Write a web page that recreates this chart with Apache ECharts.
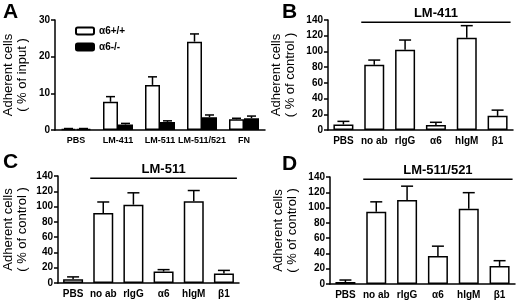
<!DOCTYPE html>
<html>
<head>
<meta charset="utf-8">
<script src="https://cdn.jsdelivr.net/npm/echarts@6/dist/echarts.min.js"></script>
<style>
  html, body { margin: 0; padding: 0; background: #fff; }
  #chart { width: 520px; height: 301px; }
</style>
</head>
<body>
<div id="chart"></div>
<script>
let chart = echarts.init(document.getElementById('chart'));

const FONT = "'Liberation Sans', Arial, sans-serif";

// panel A
const catsA = ['PBS', 'LM-411', 'LM-511', 'LM-511/521', 'FN'];
const wtA = [0.3, 7.7, 12.3, 24.1, 2.9];
const wtErrA = [0.1, 1.4, 2.2, 2.1, 0.3];
const koA = [0.3, 1.5, 2.2, 3.5, 3.2];
const koErrA = [0.1, 0.3, 0.3, 0.6, 0.6];
const legendA = ['α6+/+', 'α6-/-'];
const ticksA = [0, 10, 20, 30];

// panels B, C, D
const catsAb = ['PBS', 'no ab', 'rIgG', 'α6', 'hIgM', 'β1'];
const valB = [7, 83, 102, 6.5, 117.5, 18];
const errB = [4, 6, 12.5, 3.3, 15.3, 7.3];
const valC = [5, 91.5, 102.5, 15, 107, 12.5];
const errC = [3, 14.5, 15.5, 2.5, 14, 4];
const valD = [2.6, 94.5, 110, 36.5, 98.5, 23.5];
const errD = [2.6, 13, 18, 13, 21, 7];
const ticksAb = [0, 20, 40, 60, 80, 100, 120, 140];
const substrates = ['LM-411', 'LM-511', 'LM-511/521'];
const panelLetters = ['A', 'B', 'C', 'D'];

const grids = [
    {left: 49, top: 20, width: 216, height: 110},
    {left: 328, top: 20, width: 185, height: 110},
    {left: 48, top: 176, width: 191, height: 107},
    {left: 330, top: 177, width: 185, height: 107}
];

function xAxisFor(idx, cats, size) {
    return {
        type: 'category',
        gridIndex: idx,
        data: cats,
        axisLine: {lineStyle: {color: '#000', width: 1.5}},
        axisTick: {show: false},
        axisLabel: {color: '#000', fontWeight: 'bold', fontSize: size, fontFamily: FONT, margin: 6, interval: 0}
    };
}

function yAxisFor(idx, max, interval, name, gap) {
    return {
        type: 'value',
        gridIndex: idx,
        min: 0,
        max: max,
        interval: interval,
        name: name,
        nameLocation: 'middle',
        nameGap: gap,
        nameRotate: 90,
        nameTextStyle: {color: '#000', fontSize: 13, lineHeight: 14, fontFamily: FONT},
        splitLine: {show: false},
        axisLine: {show: true, lineStyle: {color: '#000', width: 1.5}},
        axisTick: {show: true, length: 4, lineStyle: {color: '#000', width: 1.5}},
        axisLabel: {color: '#000', fontWeight: 'bold', fontSize: 10, fontFamily: FONT, margin: 5}
    };
}

function barSeries(idx, name, values, fill, width) {
    return {
        name: name,
        type: 'bar',
        xAxisIndex: idx,
        yAxisIndex: idx,
        data: values,
        barWidth: width,
        barGap: '0%',
        itemStyle: {color: fill, borderColor: '#000', borderWidth: 1.5},
        silent: true,
        z: 3
    };
}

function errorSeries(idx, values, errs, offset, barW) {
    return {
        type: 'custom',
        xAxisIndex: idx,
        yAxisIndex: idx,
        data: values.map((v, i) => [i, v, errs[i]]),
        encode: {x: 0, y: 1},
        silent: true,
        z: 2,
        renderItem: function (params, api) {
            let i = api.value(0), v = api.value(1), e = api.value(2);
            let base = api.coord([i, v]);
            let top = api.coord([i, v + e]);
            let cx = base[0] + offset;
            let cap = barW * 0.3;
            let style = {stroke: '#000', lineWidth: 1.5};
            return {
                type: 'group',
                children: [
                    {type: 'line', shape: {x1: cx, y1: base[1], x2: cx, y2: top[1]}, style: style},
                    {type: 'line', shape: {x1: cx - cap, y1: top[1], x2: cx + cap, y2: top[1]}, style: style}
                ]
            };
        }
    };
}

const BW_A = 15;
const BW = 20;

let options = {
    animation: false,
    textStyle: {fontFamily: FONT},
    grid: grids,
    legend: {
        data: legendA,
        orient: 'vertical',
        left: 70,
        top: 21,
        itemWidth: 18,
        itemHeight: 7,
        itemGap: 6,
        textStyle: {color: '#000', fontWeight: 'bold', fontSize: 10, fontFamily: FONT},
        selectedMode: false
    },
    xAxis: [
        xAxisFor(0, catsA, 9),
        xAxisFor(1, catsAb, 10),
        xAxisFor(2, catsAb, 10),
        xAxisFor(3, catsAb, 10)
    ],
    yAxis: [
        yAxisFor(0, ticksA[ticksA.length - 1], ticksA[1] - ticksA[0], 'Adherent cells\n( % of input )', 26),
        yAxisFor(1, ticksAb[ticksAb.length - 1], ticksAb[1] - ticksAb[0], 'Adherent cells\n( % of control )', 31),
        yAxisFor(2, ticksAb[ticksAb.length - 1], ticksAb[1] - ticksAb[0], 'Adherent cells\n( % of control )', 29),
        yAxisFor(3, ticksAb[ticksAb.length - 1], ticksAb[1] - ticksAb[0], 'Adherent cells\n( % of control )', 31)
    ],
    series: [
        barSeries(0, legendA[0], wtA, '#fff', BW_A),
        barSeries(0, legendA[1], koA, '#000', BW_A),
        errorSeries(0, wtA, wtErrA, -BW_A / 2, BW_A),
        errorSeries(0, koA, koErrA, BW_A / 2, BW_A),
        barSeries(1, 'B', valB, '#fff', BW),
        errorSeries(1, valB, errB, 0, BW),
        barSeries(2, 'C', valC, '#fff', BW),
        errorSeries(2, valC, errC, 0, BW),
        barSeries(3, 'D', valD, '#fff', BW),
        errorSeries(3, valD, errD, 0, BW)
    ]
};

chart.setOption(options);

// panel letters and the substrate bracket over the antibody groups
let graphics = [];
const letterPos = [[3, 2], [282, 2], [3, 152], [282, 154]];
panelLetters.forEach((t, k) => {
    graphics.push({
        type: 'text', left: letterPos[k][0], top: letterPos[k][1],
        style: {text: t, font: 'bold 21px ' + FONT, fill: '#000'}
    });
});
substrates.forEach((name, k) => {
    let idx = k + 1;
    let from = chart.convertToPixel({xAxisIndex: idx, yAxisIndex: idx}, [catsAb[1], 137]);
    let to = chart.convertToPixel({xAxisIndex: idx, yAxisIndex: idx}, [catsAb[catsAb.length - 1], 137]);
    let x1 = from[0] - BW / 2 - 3, x2 = to[0] + BW / 2 + 3, y = from[1];
    graphics.push({
        type: 'line', shape: {x1: x1, y1: y, x2: x2, y2: y},
        style: {stroke: '#000', lineWidth: 1.5}
    });
    graphics.push({
        type: 'text', x: (x1 + x2) / 2, y: y - 2,
        style: {text: name, font: 'bold 13px ' + FONT, fill: '#000', align: 'center', verticalAlign: 'bottom'}
    });
});
chart.setOption({graphic: graphics});

window.addEventListener('resize', function () {
    chart.resize();
});
</script>
</body>
</html>
